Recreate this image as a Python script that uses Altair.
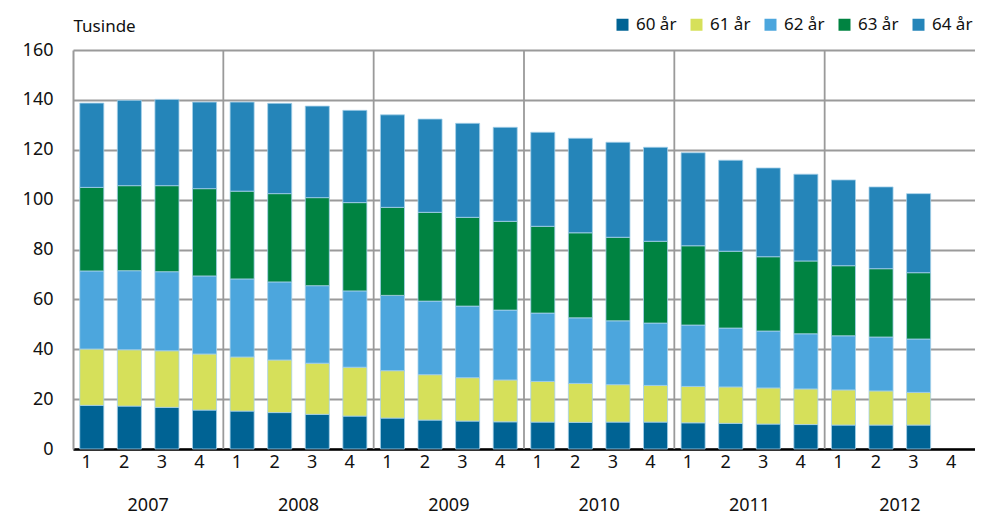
import altair as alt
import pandas as pd

years = ["2007", "2008", "2009", "2010", "2011", "2012"]
quarters = ["1", "2", "3", "4"]
series = ["60 år", "61 år", "62 år", "63 år", "64 år"]
colors = ["#006394", "#d6e05a", "#4ca6dd", "#008341", "#2585b9"]

# values in thousands, 2007Q1 .. 2012Q3
v60 = [17.5, 17.2, 16.7, 15.6, 15.2, 14.6, 13.9, 13.2, 12.4, 11.6, 11.2, 10.9,
       10.8, 10.7, 10.8, 10.8, 10.5, 10.3, 10.0, 9.8, 9.6, 9.6, 9.6]
v61 = [22.6, 22.6, 22.7, 22.5, 21.7, 21.1, 20.5, 19.6, 19.0, 18.2, 17.4, 16.8,
       16.3, 15.6, 15.0, 14.7, 14.6, 14.6, 14.5, 14.3, 14.1, 13.7, 13.1]
v62 = [31.3, 31.7, 31.7, 31.3, 31.3, 31.3, 31.1, 30.6, 30.2, 29.5, 28.7, 28.0,
       27.4, 26.3, 25.6, 25.0, 24.6, 23.6, 22.8, 22.1, 21.7, 21.6, 21.4]
v63 = [33.5, 34.1, 34.5, 35.0, 35.2, 35.4, 35.3, 35.4, 35.3, 35.6, 35.6, 35.6,
       34.8, 34.1, 33.5, 32.8, 31.8, 30.8, 29.8, 29.2, 28.1, 27.4, 26.6]
v64 = [33.8, 34.2, 34.6, 34.7, 35.7, 36.2, 36.7, 37.0, 37.1, 37.4, 37.7, 37.7,
       37.7, 37.9, 38.1, 37.7, 37.3, 36.5, 35.6, 34.8, 34.4, 32.8, 31.7]

keys = [f"{y}-{q}" for y in years for q in quarters]
all_vals = [v60, v61, v62, v63, v64]

rows = []
for si, (s, vals) in enumerate(zip(series, all_vals)):
    for i, v in enumerate(vals):
        rows.append({"key": keys[i], "series": s, "value": v, "ord": si})
df = pd.DataFrame(rows)

W, H = 902, 399
step = W / len(keys)
pin = 0.36
gap = step * pin
FONT = "Noto Sans"

xscale = alt.Scale(domain=keys, paddingInner=pin, paddingOuter=pin / 2)

bars = alt.Chart(df).mark_bar(stroke="#a6d0ea", strokeWidth=0.8).encode(
    x=alt.X("key:N", scale=xscale, sort=keys,
            axis=alt.Axis(title=None, labelExpr="split(datum.value, '-')[1]",
                          labelAngle=0, ticks=False, domainColor="#000000",
                          domainWidth=2.5, labelFontSize=18, labelPadding=13,
                          labelColor="#111111", grid=False)),
    y=alt.Y("value:Q", stack="zero",
            scale=alt.Scale(domain=[0, 160], nice=False),
            axis=alt.Axis(values=list(range(0, 161, 20)), title="Tusinde",
                          titleAngle=0, titleAlign="left", titleX=0, titleY=-19,
                          titleBaseline="alphabetic", titleFontSize=17,
                          titleFontWeight="normal", titleColor="#111111",
                          ticks=False, domainColor="#9a9a9a", domainWidth=2,
                          gridColor="#9a9a9a", gridWidth=1.8,
                          labelFontSize=18, labelPadding=20, labelColor="#111111")),
    color=alt.Color("series:N", scale=alt.Scale(domain=series, range=colors),
                    legend=alt.Legend(title=None, orient="none", direction="horizontal",
                                      columns=5, legendX=541, legendY=-34,
                                      symbolType="square", symbolSize=144,
                                      symbolStrokeWidth=0, symbolOpacity=1,
                                      labelFontSize=17, labelColor="#111111",
                                      labelOffset=5, columnPadding=11)),
    order=alt.Order("ord:Q", sort="ascending"),
)

sep_df = pd.DataFrame({"key": [f"{y}-1" for y in years[1:]]})
seps = alt.Chart(sep_df).mark_rule(color="#9a9a9a", strokeWidth=1.8, xOffset=-gap / 2).encode(
    x=alt.X("key:N", scale=xscale, sort=keys, bandPosition=0),
)

year_df = pd.DataFrame({"key": [f"{y}-2" for y in years], "year": years})
year_text = alt.Chart(year_df).mark_text(
    fontSize=18, font=FONT, color="#111111", dx=step / 2, baseline="middle"
).encode(
    x=alt.X("key:N", scale=xscale, sort=keys),
    y=alt.value(H + 57),
    text="year:N",
)

chart = alt.layer(seps, bars, year_text).properties(
    width=W, height=H,
    autosize=alt.AutoSizeParams(type="none"),
    padding={"left": 65, "top": 42, "right": 0, "bottom": 72},
).configure(font=FONT).configure_view(stroke=None)

chart.save("out.html", embed_options={"renderer": "svg", "actions": False})
